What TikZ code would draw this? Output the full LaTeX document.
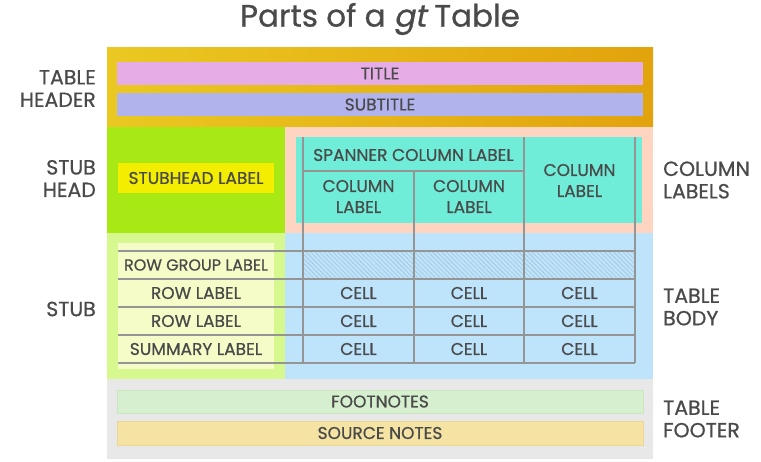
\documentclass[tikz,border=0pt]{standalone}
\usepackage{fontspec}
\setmainfont{Poppins}
\newfontfamily\medfont[FakeBold=0.7]{Poppins}
\newfontfamily\gtslant[FakeSlant=0.2,FakeBold=0.7]{Poppins}
\usetikzlibrary{patterns.meta}
\definecolor{txt}{HTML}{4A4A4A}
\definecolor{hdrL}{HTML}{EAC822}
\definecolor{hdrR}{HTML}{E2A30C}
\definecolor{titlec}{HTML}{E6ACE6}
\definecolor{subc}{HTML}{B0B3EC}
\definecolor{stubheadc}{HTML}{A8E815}
\definecolor{shlabc}{HTML}{F3EE00}
\definecolor{peach}{HTML}{FFD4C0}
\definecolor{teal}{HTML}{6FEDD9}
\definecolor{stubc}{HTML}{D6F88E}
\definecolor{stubin}{HTML}{F6FCC8}
\definecolor{bodyc}{HTML}{BEE4FC}
\definecolor{footc}{HTML}{E8E8E8}
\definecolor{fnc}{HTML}{D6EFCF}
\definecolor{fnb}{HTML}{C9E6C0}
\definecolor{snc}{HTML}{F4E3A3}
\definecolor{snb}{HTML}{EAD796}
\definecolor{gridc}{HTML}{959595}
\definecolor{hatchc}{HTML}{A3C3D8}
\begin{document}
\begin{tikzpicture}[x=1pt,y=-1pt,
  region/.style={draw=none, inner sep=0pt, outer sep=0pt, anchor=north west, rectangle},
  lbl/.style={text=txt, font=\medfont\fontsize{17}{21}\selectfont, inner sep=0pt, align=center},
  side/.style={text=txt, font=\medfont\fontsize{20.5}{22.5}\selectfont, inner sep=0pt},
  gridline/.style={draw=gridc, line width=1.3pt}]
\useasboundingbox (0,0) rectangle (761,462);
% title
\node[text=txt, font=\medfont\fontsize{31}{33}\selectfont, inner sep=0pt] (maintitle) at (380,19) {Parts of a {\gtslant gt} Table};
% header
\node[region, left color=hdrL, right color=hdrR, minimum width=546, minimum height=79] (header) at (107,48) {};
\node[region, fill=titlec, minimum width=526, minimum height=23] (titlebar) at (117,62) {};
\node[lbl] (titletxt) at (titlebar.center) {TITLE};
\node[region, fill=subc, minimum width=526, minimum height=23] (subbar) at (117,93) {};
\node[lbl] (subtxt) at (subbar.center) {SUBTITLE};
% stub head
\node[region, fill=stubheadc, minimum width=178, minimum height=106] (stubhead) at (107,127) {};
\node[region, fill=shlabc, minimum width=156, minimum height=30] (shlab) at (118,163) {};
\node[lbl] (shtxt) at (shlab.center) {STUBHEAD LABEL};
% column labels
\node[region, fill=peach, minimum width=368, minimum height=106] (collabs) at (285,127) {};
\node[region, fill=teal, minimum width=346, minimum height=86] (tealbox) at (296,137) {};
% stub
\node[region, fill=stubc, minimum width=178, minimum height=146] (stub) at (107,233) {};
\node[region, fill=stubin, minimum width=156, minimum height=126] (stubinner) at (118,243) {};
% body
\node[region, fill=bodyc, minimum width=368, minimum height=146] (body) at (285,233) {};
% footer
\node[region, fill=footc, minimum width=546, minimum height=80] (footer) at (107,379) {};
\node[region, fill=fnc, draw=fnb, line width=0.6pt, minimum width=526, minimum height=23] (fnbar) at (117,390) {};
\node[lbl] (fntxt) at (fnbar.center) {FOOTNOTES};
\node[region, fill=snc, draw=snb, line width=0.6pt, minimum width=526, minimum height=24] (snbar) at (117,421) {};
\node[lbl] (sntxt) at (snbar.center) {SOURCE NOTES};
% hatch
\fill[pattern={Lines[angle=-45, distance=3.2pt, line width=0.6pt]}, pattern color=hatchc] (303,251) rectangle (635,279);
% grid
\draw[gridline] (303,137) -- (303,363);
\draw[gridline] (414,171) -- (414,363);
\draw[gridline] (524,137) -- (524,363);
\draw[gridline] (635,137) -- (635,363);
\draw[gridline] (303,171) -- (524,171);
\foreach \yy in {251,279,307,335,363} \draw[gridline] (118,\yy) -- (635,\yy);
% column label texts
\node[lbl] (spanner) at (413.5,155) {SPANNER COLUMN LABEL};
\node[lbl] (cl1) at (358.5,196.5) {COLUMN\\LABEL};
\node[lbl] (cl2) at (469,196.5) {COLUMN\\LABEL};
\node[lbl] (cl3) at (579.5,180.5) {COLUMN\\LABEL};
% stub labels
\node[lbl, font=\medfont\fontsize{16}{21}\selectfont] (rg) at (196,265) {ROW GROUP LABEL};
\node[lbl] (rl1) at (196,293) {ROW LABEL};
\node[lbl] (rl2) at (196,321) {ROW LABEL};
\node[lbl] (sl) at (196,349) {SUMMARY LABEL};
% cells
\foreach \yy [count=\r] in {293,321,349} {
  \node[lbl] (c\r a) at (358.5,\yy) {CELL};
  \node[lbl] (c\r b) at (469,\yy) {CELL};
  \node[lbl] (c\r c) at (579.5,\yy) {CELL};
}
% side labels
\node[side, anchor=east, align=right] (lh) at (96,88.5) {TABLE\\HEADER};
\node[side, anchor=east, align=right] (lsh) at (96,178.5) {STUB\\HEAD};
\node[side, anchor=east, align=right] (ls) at (96,309) {STUB};
\node[side, anchor=west, align=left] (rcl) at (663,180) {COLUMN\\LABELS};
\node[side, anchor=west, align=left] (rtb) at (663,307) {TABLE\\BODY};
\node[side, anchor=west, align=left] (rtf) at (663,419) {TABLE\\FOOTER};
\end{tikzpicture}
\end{document}
